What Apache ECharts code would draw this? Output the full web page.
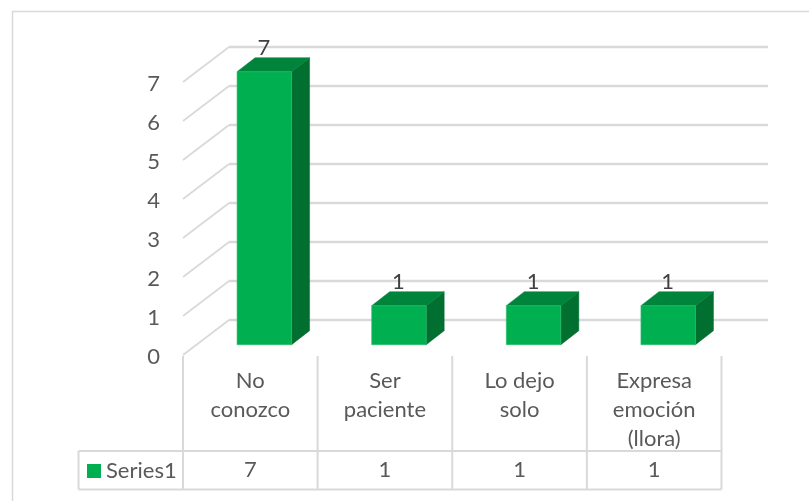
<!DOCTYPE html>
<html><head><meta charset="utf-8">
<style>html,body{margin:0;padding:0;background:#fff}#c{width:809px;height:501px}</style>
<script src="https://cdn.jsdelivr.net/npm/echarts@6/dist/echarts.min.js"></script>
</head><body><div id="c"></div>
<script>
const categories = ['No\nconozco', 'Ser\npaciente', 'Lo dejo\nsolo', 'Expresa\nemoción\n(llora)'];
const values = [7, 1, 1, 1];
const yTicks = [0, 1, 2, 3, 4, 5, 6, 7];
const seriesName = 'Series1';

const FONT = 'Lato';
const FS = 22;
const GRID = '#D9D9D9', AXIS_TXT = '#595959', LABEL_TXT = '#404040';
const FRONT = '#00B050', TOP = '#00843C', SIDE = '#006F30';
const WALL_DX = 46, WALL_DY = -35;      // depth of the floor / wall
const BAR_DX = 14, BAR_DY = -10.3;      // where the bar's front face sits
const BAR_SX = 18, BAR_SY = -14;        // bar's own depth
const BAR_W = 0.405;

const chart = echarts.init(document.getElementById('c'), null, {renderer: 'canvas'});

function renderBar(params, api) {
  const cat = api.value(0), v = api.value(1);
  const base = api.coord([cat, 0]), top = api.coord([cat, v]);
  const w = api.size([1, 0])[0] * BAR_W;
  const l = base[0] + BAR_DX - w / 2, r = l + w;
  const t = top[1] + BAR_DY, b = base[1] + BAR_DY;
  const poly = (points, fill) => ({type: 'polygon', shape: {points}, style: {fill, stroke: fill, lineWidth: 0.5}});
  const children = [
    poly([[r, t], [r + BAR_SX, t + BAR_SY], [r + BAR_SX, b + BAR_SY], [r, b]], SIDE),
    poly([[l, t], [l + BAR_SX, t + BAR_SY], [r + BAR_SX, t + BAR_SY], [r, t]], TOP),
    {type: 'rect', shape: {x: l, y: t, width: w, height: b - t},
      style: {fill: FRONT, stroke: '#2DBD6C', lineWidth: 0.6}},
    {type: 'text', style: {text: String(v), x: base[0] + BAR_DX - 0.5, y: t + BAR_SY - 9.5,
      align: 'center', verticalAlign: 'middle', fill: LABEL_TXT, font: FS + 'px ' + FONT}}
  ];
  return {type: 'group', children};
}

function renderWall(params, api) {
  const v = api.value(0);
  const x = params.coordSys.x, y = api.coord([0, v])[1];
  return {type: 'line', shape: {x1: x, y1: y, x2: x + WALL_DX, y2: y + WALL_DY},
    style: {stroke: GRID, lineWidth: 1.7}};
}

function renderTable(params, api) {
  const cs = params.coordSys, i = api.value(0);
  const cw = api.size([1, 0])[0];
  const bottom = cs.y + cs.height;
  const y1 = bottom + 96, y2 = bottom + 134.5;
  const right = cs.x + cw * (i + 1);
  const line = (x1, a, x2, b) => ({type: 'line', shape: {x1, y1: a, x2, y2: b}, style: {stroke: GRID, lineWidth: 2}});
  const children = [
    line(right, bottom + 1, right, y2),
    {type: 'text', style: {text: String(api.value(1)), x: api.coord([i, 0])[0], y: (y1 + y2) / 2,
      align: 'center', verticalAlign: 'middle', fill: AXIS_TXT, font: FS + 'px ' + FONT}}
  ];
  if (i === 0) {
    children.push(line(cs.x, bottom + 1, cs.x, y2));
    const tableLeft = cs.x - 104.5, tableRight = cs.x + cs.width;
    children.push(line(tableLeft, y1, tableRight, y1), line(tableLeft, y2, tableRight, y2), line(tableLeft, y1, tableLeft, y2));
  }
  return {type: 'group', children};
}

chart.setOption({
  animation: false,
  backgroundColor: '#fff',
  textStyle: {fontFamily: FONT},
  graphic: [
    {type: 'polyline', shape: {points: [[12.5, 501], [12.5, 11.5], [809, 11.5]]},
      style: {stroke: GRID, lineWidth: 1.5, fill: 'none'}, silent: true}
  ],
  legend: {
    data: [seriesName], left: 82, top: 455, itemWidth: 14, itemHeight: 14, itemGap: 5, icon: 'rect',
    textStyle: {color: AXIS_TXT, fontSize: FS, fontFamily: FONT}, selectedMode: false
  },
  grid: [
    {left: 183, width: 538.5, top: 82, height: 273},
    {left: 229, width: 539, top: 47, height: 273}
  ],
  xAxis: [
    {type: 'category', gridIndex: 0, data: categories,
      axisLine: {show: false}, axisTick: {show: false}, splitLine: {show: false},
      axisLabel: {interval: 0, margin: 11, color: AXIS_TXT, fontSize: FS, fontFamily: FONT, lineHeight: 29, hideOverlap: false}},
    {type: 'category', gridIndex: 1, data: categories, show: false}
  ],
  yAxis: [
    {type: 'value', gridIndex: 0, min: 0, max: 7, interval: 1,
      axisLine: {show: false}, axisTick: {show: false}, splitLine: {show: false},
      axisLabel: {margin: 23, formatter: '{t|{value}}',
        rich: {t: {color: AXIS_TXT, fontSize: FS, fontFamily: FONT, padding: [4, 0, 0, 0]}}}},
    {type: 'value', gridIndex: 1, min: 0, max: 7, interval: 1,
      axisLine: {show: false}, axisTick: {show: false}, axisLabel: {show: false},
      splitLine: {show: true, lineStyle: {color: GRID, width: 2.4}}}
  ],
  series: [
    {type: 'custom', name: 'wall', xAxisIndex: 0, yAxisIndex: 0, coordinateSystem: 'cartesian2d',
      renderItem: renderWall, data: yTicks.map(v => [v]), encode: {y: 0}, z: 1, silent: true},
    {type: 'custom', name: 'table', xAxisIndex: 0, yAxisIndex: 0, coordinateSystem: 'cartesian2d', clip: false,
      renderItem: renderTable, data: values.map((v, i) => [i, v]), encode: {x: 0}, z: 1, silent: true},
    {type: 'custom', name: seriesName, xAxisIndex: 0, yAxisIndex: 0, coordinateSystem: 'cartesian2d', clip: false,
      itemStyle: {color: FRONT},
      renderItem: renderBar, data: values.map((v, i) => [i, v]), encode: {x: 0, y: 1}, z: 3}
  ]
});
</script></body></html>
